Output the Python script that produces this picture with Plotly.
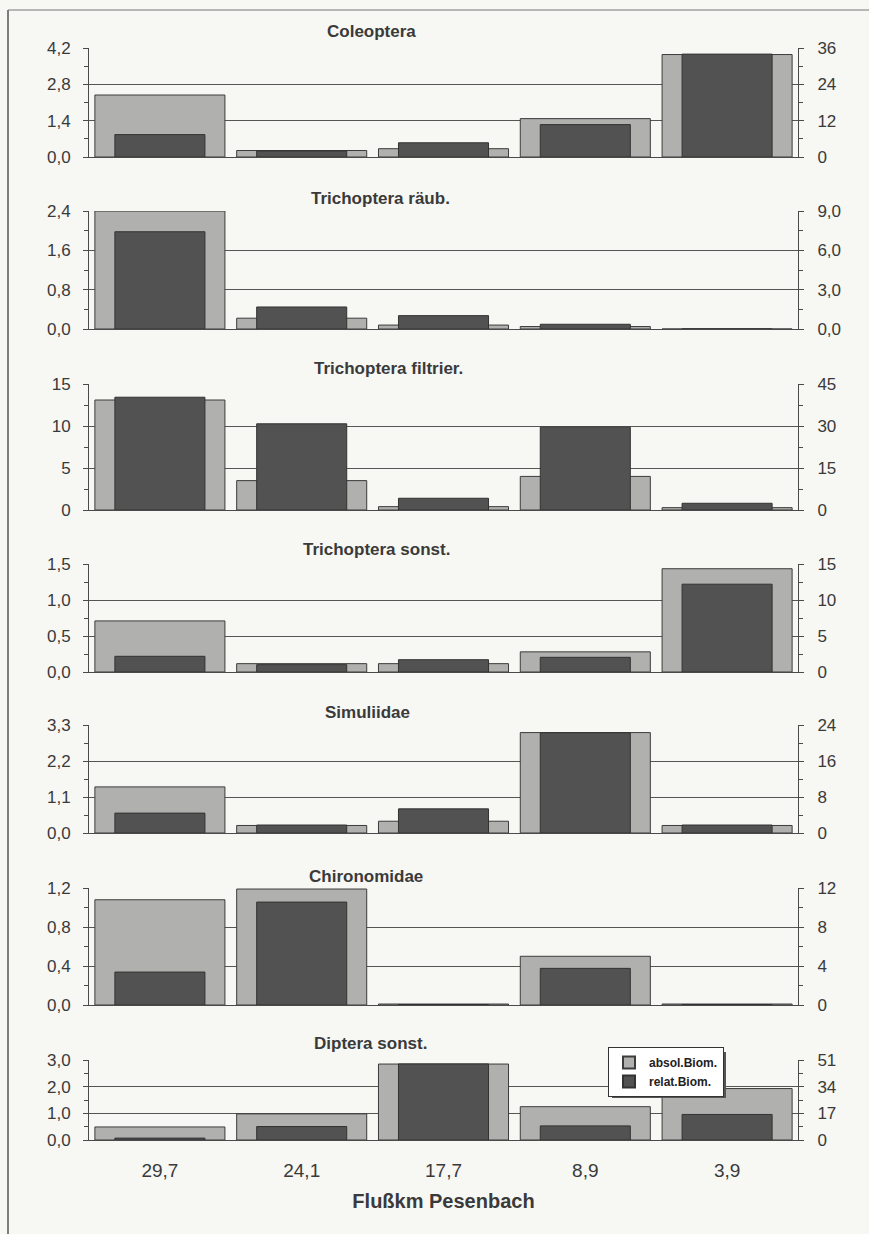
import plotly.graph_objects as go

# ---------------- data ----------------
categories = ["29,7", "24,1", "17,7", "8,9", "3,9"]

panel_titles = ["Coleoptera", "Trichoptera räub.", "Trichoptera filtrier.",
                "Trichoptera sonst.", "Simuliidae", "Chironomidae", "Diptera sonst."]

coleoptera_absol = [2.39, 0.25, 0.32, 1.48, 3.95]
coleoptera_relat = [7.4, 2.0, 4.7, 10.7, 34.0]

tri_raeub_absol = [2.4, 0.22, 0.08, 0.05, 0.0]
tri_raeub_relat = [7.42, 1.68, 1.02, 0.36, 0.0]

tri_filtr_absol = [13.1, 3.5, 0.4, 4.0, 0.28]
tri_filtr_relat = [40.3, 30.8, 4.2, 29.6, 2.4]

tri_sonst_absol = [0.71, 0.116, 0.116, 0.28, 1.435]
tri_sonst_relat = [2.18, 1.02, 1.71, 2.04, 12.2]

simuliidae_absol = [1.41, 0.23, 0.36, 3.07, 0.23]
simuliidae_relat = [4.42, 1.77, 5.37, 22.3, 1.77]

chironomidae_absol = [1.08, 1.19, 0.01, 0.50, 0.01]
chironomidae_relat = [3.38, 10.56, 0.05, 3.76, 0.05]

diptera_absol = [0.49, 0.98, 2.85, 1.25, 1.93]
diptera_relat = [1.2, 8.6, 48.5, 9.0, 16.3]

absol_series = [coleoptera_absol, tri_raeub_absol, tri_filtr_absol, tri_sonst_absol,
                simuliidae_absol, chironomidae_absol, diptera_absol]
relat_series = [coleoptera_relat, tri_raeub_relat, tri_filtr_relat, tri_sonst_relat,
                simuliidae_relat, chironomidae_relat, diptera_relat]

# axis scales (left = absol, right = relat)
left_max = [4.2, 2.4, 15, 1.5, 3.3, 1.2, 3.0]
left_step = [1.4, 0.8, 5, 0.5, 1.1, 0.4, 1.0]
left_dec = [1, 1, 0, 1, 1, 1, 1]
right_max = [36, 9, 45, 15, 24, 12, 51]
right_step = [12, 3, 15, 5, 8, 4, 17]
right_dec = [0, 1, 0, 0, 0, 0, 0]

x_title = "Flußkm Pesenbach"
legend_names = ["absol.Biom.", "relat.Biom."]

# ---------------- layout geometry ----------------
W, H = 869, 1234
PL, PR = 89, 798
panel_px = [(48, 157), (211, 329), (384, 510), (564, 672), (725, 833), (888, 1005), (1060, 1140)]
title_px = [(371, 32), (380, 198), (388, 369), (376, 549), (367, 712), (366, 876), (370, 1043)]


def xp(px):
    return (px - PL) / (PR - PL)


def yp(py):
    return 1 - py / H


def fmt(v, d):
    s = f"{v:.{d}f}"
    return s.replace(".", ",")


FONT = "Liberation Sans, Arial, sans-serif"
AXC = "#4a4a4a"
LIGHT = "#b0b0ae"
DARK = "#525252"
BG = "#f7f7f4"
TXT = "#3a3a3a"

fig = go.Figure()
layout = {}
annotations = []

for i in range(7):
    xa = "x" if i == 0 else f"x{i + 1}"
    yl = f"y{2 * i + 1}" if i > 0 else "y"
    yr = f"y{2 * i + 2}"
    fig.add_trace(go.Bar(
        x=categories, y=absol_series[i], xaxis=xa, yaxis=yl, width=0.917,
        marker=dict(color=LIGHT, line=dict(color="#3c3c3c", width=1)),
        name=legend_names[0], legendgroup="a", showlegend=(i == 6)))
    fig.add_trace(go.Bar(
        x=categories, y=relat_series[i], xaxis=xa, yaxis=yr, width=0.635,
        marker=dict(color=DARK, line=dict(color="#333333", width=1)),
        name=legend_names[1], legendgroup="r", showlegend=(i == 6)))

    top, bot = panel_px[i]
    dom = [yp(bot), yp(top)]
    xkey = "xaxis" if i == 0 else f"xaxis{i + 1}"
    ylkey = "yaxis" if i == 0 else f"yaxis{2 * i + 1}"
    yrkey = f"yaxis{2 * i + 2}"

    layout[xkey] = dict(
        domain=[0, 1], anchor=yl, type="category", range=[-0.5, 4.5],
        showline=True, linecolor=AXC, linewidth=1, ticks="",
        showgrid=False, showticklabels=(i == 6), automargin=False,
        tickfont=dict(family=FONT, size=19, color=TXT),
        ticklabelstandoff=13,
    )
    if i == 6:
        layout[xkey]["title"] = dict(text=f"<b>{x_title}</b>",
                                     font=dict(family=FONT, size=20, color=TXT),
                                     standoff=14)

    nl = round(left_max[i] / left_step[i])
    lv = [k * left_step[i] for k in range(nl + 1)]
    layout[ylkey] = dict(
        domain=dom, anchor=xa, range=[0, left_max[i] * 1.0005],
        tickvals=lv, ticktext=[fmt(v, left_dec[i]) for v in lv],
        showline=True, linecolor=AXC, linewidth=1, automargin=False,
        ticks="outside", ticklen=5, tickcolor=AXC,
        minor=dict(tickvals=[(k + 0.5) * left_step[i] for k in range(nl)],
                   ticks="outside", ticklen=4, tickcolor=AXC),
        showgrid=True, gridcolor="#555555", gridwidth=1.2, zeroline=False,
        tickfont=dict(family=FONT, size=17, color=TXT), ticklabelstandoff=9,
    )
    nr = round(right_max[i] / right_step[i])
    rv = [k * right_step[i] for k in range(nr + 1)]
    layout[yrkey] = dict(
        domain=dom, anchor=xa, overlaying=yl, side="right",
        range=[0, right_max[i] * 1.0005], automargin=False,
        tickvals=rv, ticktext=[fmt(v, right_dec[i]) for v in rv],
        showline=True, linecolor=AXC, linewidth=1,
        ticks="outside", ticklen=5, tickcolor=AXC,
        minor=dict(tickvals=[(k + 0.5) * right_step[i] for k in range(nr)],
                   ticks="outside", ticklen=4, tickcolor=AXC),
        showgrid=False, zeroline=False,
        tickfont=dict(family=FONT, size=17, color=TXT), ticklabelstandoff=10,
    )

    tx, ty = title_px[i]
    annotations.append(dict(
        text=f"<b>{panel_titles[i]}</b>", x=xp(tx), y=yp(ty), xref="paper", yref="paper",
        xanchor="center", yanchor="middle", showarrow=False,
        font=dict(family=FONT, size=17, color=TXT)))

shapes = [
    # outer frame (left and top edges)
    dict(type="line", xref="paper", yref="paper", x0=xp(8), x1=xp(8), y0=yp(10), y1=yp(1234),
         line=dict(color="#555", width=1.5)),
    dict(type="line", xref="paper", yref="paper", x0=xp(8), x1=xp(869), y0=yp(10), y1=yp(10),
         line=dict(color="#777", width=1)),
    # legend shadow
    dict(type="rect", xref="paper", yref="paper", x0=xp(612), x1=xp(726), y0=yp(1098), y1=yp(1052),
         fillcolor="#555", line=dict(width=0)),
]

fig.update_layout(**layout)
fig.update_layout(
    width=W, height=H, margin=dict(l=PL, r=W - PR, t=0, b=0, autoexpand=False),
    paper_bgcolor=BG, plot_bgcolor=BG, barmode="overlay",
    separators=",.",
    annotations=annotations, shapes=shapes,
    legend=dict(x=xp(608), y=yp(1047), xanchor="left", yanchor="top",
                bgcolor="#ffffff", bordercolor="#333", borderwidth=1,
                font=dict(family=FONT, size=12, color="#222", weight="bold"),
                traceorder="normal", itemwidth=30, tracegroupgap=0,
                itemsizing="constant"),
    font=dict(family=FONT),
)

fig.write_html("out.html")
